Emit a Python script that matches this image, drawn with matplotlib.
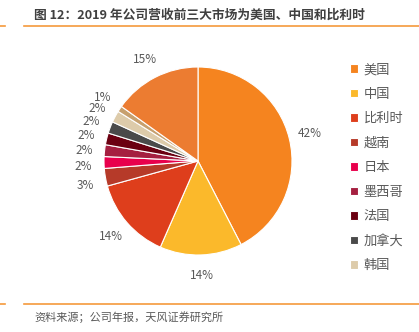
import matplotlib.pyplot as plt
from matplotlib.lines import Line2D

plt.rcParams['font.family'] = ['Noto Sans CJK SC', 'DejaVu Sans']

markets = ['美国', '中国', '比利时', '越南', '日本', '墨西哥', '法国', '加拿大', '韩国', '其他1', '其他2']
shares = [42, 14, 14, 3, 2, 2, 2, 2, 2, 1, 15]
colors = ['#F5841F', '#FBB92B', '#DE3E1C', '#B63A29', '#E8004C', '#A51F40',
          '#6B0011', '#4A4A4A', '#DDCBAA', '#C7A06E', '#EC7C31']
legend_n = 9  # only the first nine markets are in the legend

fig = plt.figure(figsize=(4.19, 3.32), dpi=100)
W, H = 419, 332

# header / footer
fig.text(34 / W, 1 - 15 / H, '图 12：2019 年公司营收前三大市场为美国、中国和比利时',
         fontsize=9.2, fontweight='bold', color='#404040', va='center', ha='left')
fig.text(34 / W, 1 - 317 / H, '资料来源；公司年报，天风证券研究所',
         fontsize=8, color='#595959', va='center', ha='left')
for yy in (26, 304):
    y = 1 - yy / H
    fig.add_artist(Line2D([0, 5 / W], [y, y], color='#F59A3C', lw=1.2))
    fig.add_artist(Line2D([24 / W, 1], [y, y], color='#F59A3C', lw=1.2))

# pie
cx, cy, r = 198, 161, 94
ax = fig.add_axes([(cx - r) / W, 1 - (cy + r) / H, 2 * r / W, 2 * r / H])
wedges, texts, autotexts = ax.pie(
    shares, colors=colors, startangle=90, counterclock=False,
    autopct='%1.0f%%', pctdistance=1.22,
    wedgeprops=dict(edgecolor='white', linewidth=0.8),
    textprops=dict(color='#595959', fontsize=8.5))
ax.set_xlim(-1, 1)
ax.set_ylim(-1, 1)
ax.set_aspect('auto')

# nudge the small slice labels like in the source
nudge = {3: -0.05, 4: -0.04, 5: -0.02, 6: -0.02, 7: -0.01, 8: -0.02}
for i, dy in nudge.items():
    x, y = autotexts[i].get_position()
    autotexts[i].set_position((x, y + dy))

lx = (345 - (cx - r)) / (2 * r)
ly = (cy + r - 58) / (2 * r)
ax.legend(wedges[:legend_n], markets[:legend_n],
          loc='upper left', bbox_to_anchor=(lx, ly),
          frameon=False, fontsize=9.5, labelcolor='#595959',
          handlelength=0.6, handleheight=0.6, handletextpad=0.4,
          labelspacing=0.87, borderaxespad=0)

fig.savefig('out.png', dpi=100)
